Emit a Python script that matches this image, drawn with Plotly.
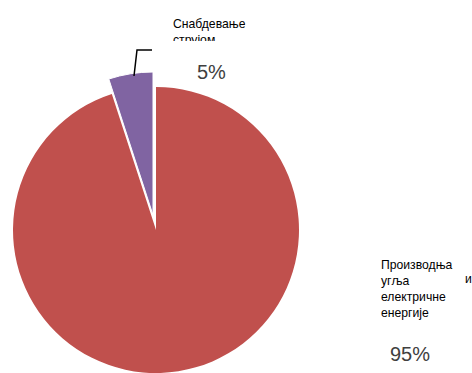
import plotly.graph_objects as go

W, H = 472, 373

categories = ["Производња угља и електричне енергије", "Снабдевање струјом"]
values = [95, 5]
pct_labels = ["95%", "5%"]
colors = ["#C0504D", "#8064A2"]

def px(x):
    return x / W

def py(y):
    return 1 - y / H

fig = go.Figure()
# main pie (red slice visible, purple slice hidden)
fig.add_trace(go.Pie(
    labels=categories, values=values, sort=False, direction="clockwise",
    rotation=0, textinfo="none", hoverinfo="label+percent",
    marker=dict(colors=[colors[0], "rgba(0,0,0,0)"], line=dict(width=[0, 0], color="white")),
    domain=dict(x=[px(13), px(299)], y=[0, 286 / H]),
    showlegend=False,
))
# exploded purple slice
fig.add_trace(go.Pie(
    labels=categories, values=values, sort=False, direction="clockwise",
    rotation=0, textinfo="none", hoverinfo="label+percent",
    marker=dict(colors=["rgba(0,0,0,0)", colors[1]], line=dict(width=[0, 1], color="white")),
    domain=dict(x=[px(10), px(296)], y=[15 / H, 301 / H]),
    showlegend=False,
))

font = "Liberation Sans, Arial, sans-serif"
fig.add_annotation(xref="paper", yref="paper", x=px(171), y=py(15), xanchor="left", yanchor="top",
                   text="Снабдевање<br>струјом", showarrow=False, align="left", valign="top",
                   height=24, font=dict(family=font, size=12.2, color="black"))
fig.add_annotation(xref="paper", yref="paper", x=px(211), y=py(72), xanchor="center", yanchor="middle",
                   text=pct_labels[1], showarrow=False,
                   font=dict(family=font, size=20, color="#404040"))
fig.add_annotation(xref="paper", yref="paper", x=px(379), y=py(256), xanchor="left", yanchor="top",
                   text="Производња<br>угља<br>електричне<br>енергије", showarrow=False, align="left",
                   font=dict(family=font, size=12.2, color="black"))
fig.add_annotation(xref="paper", yref="paper", x=px(464), y=py(279), xanchor="left", yanchor="middle",
                   text="и", showarrow=False, borderpad=0,
                   font=dict(family=font, size=12.2, color="black"))
fig.add_annotation(xref="paper", yref="paper", x=px(410), y=py(354), xanchor="center", yanchor="middle",
                   text=pct_labels[0], showarrow=False,
                   font=dict(family=font, size=20, color="#404040"))

# leader line
fig.add_shape(type="path", xref="paper", yref="paper",
              path=f"M {px(134)} {py(76)} L {px(137)} {py(50)} L {px(152)} {py(50)}",
              line=dict(color="black", width=1.5))

fig.update_layout(width=W, height=H, margin=dict(l=0, r=0, t=0, b=0),
                  paper_bgcolor="white", plot_bgcolor="white")
fig.write_html("out.html", config={"displayModeBar": False},
               post_script="document.body.style.margin='0';document.documentElement.style.overflow='hidden';document.body.style.overflow='hidden';")
